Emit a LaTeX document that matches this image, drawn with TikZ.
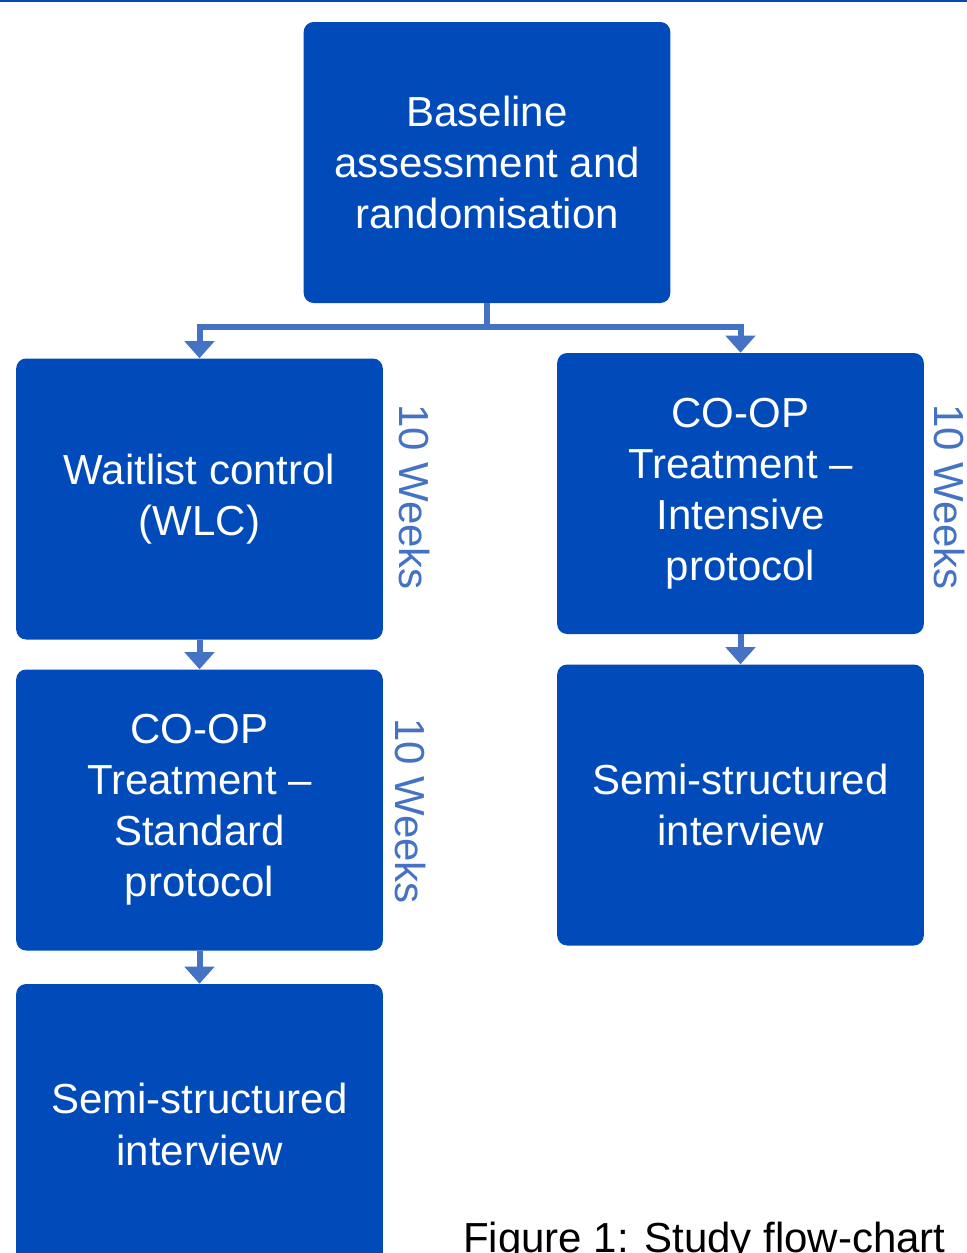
\documentclass[tikz,border=0pt]{standalone}
\usepackage{fontspec}
\setmainfont{Liberation Sans}
\usetikzlibrary{arrows.meta}
\definecolor{boxblue}{RGB}{0,74,186}
\definecolor{linkblue}{RGB}{68,114,196}
\tikzset{
  stepbox/.style={fill=boxblue, draw=none, rounded corners=7.5pt, text=white,
    minimum width=275pt, minimum height=210.75pt, align=center, inner sep=0pt,
    font=\fontsize{31.5}{38.3}\selectfont},
  conn/.style={draw=linkblue, line width=4.5pt,
    -{Triangle[width=21.75pt,length=12.75pt]}},
  weeks/.style={text=linkblue, rotate=-90, inner sep=0pt,
    font=\fontsize{31.5}{38.3}\selectfont},
}
\begin{document}
\begin{tikzpicture}[x=0.75pt,y=-0.75pt]
\clip (0,0) rectangle (967,1253);
\fill[boxblue] (0,0) rectangle (967,1.6);
\node[stepbox] (base) at (487,162.5) {Baseline\\assessment and\\randomisation};
\node[stepbox] (wlc) at (199.5,499) {Waitlist control\\(WLC)};
\node[stepbox] (int) at (740.5,493.5) {CO-OP\\Treatment --\\Intensive\\protocol};
\node[stepbox] (std) at (199.5,810) {CO-OP\\Treatment --\\Standard\\protocol};
\node[stepbox] (semir) at (740.5,805) {Semi-structured\\interview};
\node[stepbox] (semil) at (199.5,1124.5) {Semi-structured\\interview};
\coordinate (split) at (487,327);
\draw[conn] (base.south) -- (split) -| (wlc.north);
\draw[conn] (base.south) -- (split) -| (int.north);
\draw[conn] (wlc.south) -- (std.north);
\draw[conn] (int.south) -- (semir.north);
\draw[conn] (std.south) -- (semil.north);
\node[weeks] (w1) at (415,497) {10 Weeks};
\node[weeks] (w2) at (411,811) {10 Weeks};
\node[weeks] (w3) at (950,497) {10 Weeks};
\node[anchor=base west, inner sep=0pt, font=\fontsize{31.5}{38.3}\selectfont] (cap) at (463,1252) {Figure 1: Study flow-chart};
\end{tikzpicture}
\end{document}
